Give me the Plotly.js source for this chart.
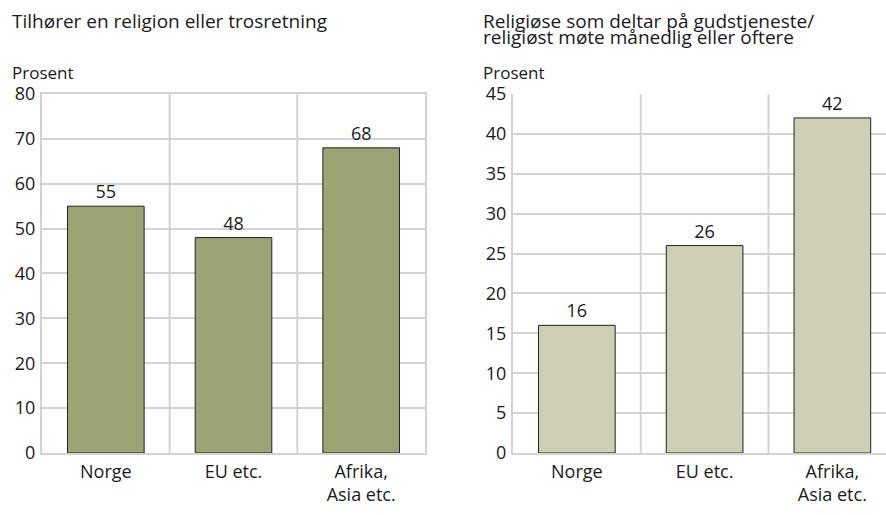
<!DOCTYPE html>
<html>
<head>
<meta charset="utf-8">
<script src="https://cdn.plot.ly/plotly-3.0.1.min.js"></script>
<style>
  html, body { margin: 0; padding: 0; background: #fff; }
  #graphics { width: 886px; height: 515px; }
</style>
</head>
<body>
<div id="graphics"></div>
<script>
var categories = ['Norge', 'EU etc.', 'Afrika,<br>Asia etc.'];
var membership = [55, 48, 68];
var attendance = [16, 26, 42];
var leftTitle = 'Tilhører en religion eller trosretning';
var rightTitle1 = 'Religiøse som deltar på gudstjeneste/';
var rightTitle2 = 'religiøst møte månedlig eller oftere';

var font = '"Open Sans", "Noto Sans", sans-serif';
var gridColor = '#d3d3d3';
var textColor = '#1a1a1a';

var left = {
  x: categories,
  y: membership,
  type: 'bar',
  width: 0.6,
  text: membership.map(String),
  textposition: 'outside',
  cliponaxis: false,
  textfont: { size: 18, color: textColor },
  marker: { color: '#9ca374', line: { color: '#222', width: 1 } },
  xaxis: 'x', yaxis: 'y',
  hoverinfo: 'none'
};
var right = {
  x: categories,
  y: attendance,
  type: 'bar',
  width: 0.6,
  text: attendance.map(String),
  textposition: 'outside',
  cliponaxis: false,
  textfont: { size: 18, color: textColor },
  marker: { color: '#cdd0b4', line: { color: '#222', width: 1 } },
  xaxis: 'x2', yaxis: 'y2',
  hoverinfo: 'none'
};

// vertical lines between categories
var shapes = [];
for (var i = 0; i < categories.length - 1; i++) {
  ['x', 'x2'].forEach(function(ax) {
    shapes.push({
      type: 'line', xref: ax, yref: 'paper', layer: 'below',
      x0: i + 0.5, x1: i + 0.5, y0: 0.1204, y1: 0.8175,
      line: { color: gridColor, width: 2 }
    });
  });
}

function yAxis(range, dtick, anchor) {
  return {
    range: range, dtick: dtick, domain: [0.1204, 0.8175],
    showgrid: true, gridcolor: gridColor, gridwidth: 2,
    showline: true, linecolor: gridColor, linewidth: 2,
    zeroline: false, ticks: '', ticklabelstandoff: 1,
    tickfont: { size: 18, color: textColor, family: font },
    anchor: anchor, fixedrange: true
  };
}

function note(text, px, py, size) {
  return {
    text: text, xref: 'paper', yref: 'paper', x: px / 886, y: 1 - py / 515,
    xanchor: 'left', yanchor: 'top', showarrow: false,
    font: { size: size, color: textColor }
  };
}

var layout = {
  width: 886,
  height: 515,
  margin: { l: 0, r: 0, t: 0, b: 0 },
  paper_bgcolor: '#fff',
  plot_bgcolor: '#fff',
  showlegend: false,
  font: { family: font, color: textColor },
  xaxis: {
    domain: [0.0474, 0.4797], range: [-0.5, 2.5], type: 'category',
    showgrid: false, showline: true, mirror: true, linecolor: gridColor, linewidth: 2,
    ticks: '', ticklabelstandoff: 1, tickfont: { size: 18, color: textColor, family: font },
    anchor: 'y', fixedrange: true
  },
  yaxis: Object.assign(yAxis([0, 80], 10, 'x'), { mirror: true }),
  xaxis2: {
    domain: [0.579, 1], range: [-0.5, 2.42], type: 'category',
    showgrid: false, showline: true, linecolor: gridColor, linewidth: 2,
    ticks: '', ticklabelstandoff: 1, tickfont: { size: 18, color: textColor, family: font },
    anchor: 'y2', fixedrange: true
  },
  yaxis2: yAxis([0, 45], 5, 'x2'),
  shapes: shapes,
  annotations: [
    note(leftTitle, 10, 6, 19),
    note(rightTitle1, 481, 6, 19),
    note(rightTitle2, 481, 22, 19),
    note('Prosent', 10, 59, 17),
    note('Prosent', 481, 59, 17)
  ]
};

Plotly.newPlot('graphics', [left, right], layout, { staticPlot: true });
</script>
</body>
</html>
